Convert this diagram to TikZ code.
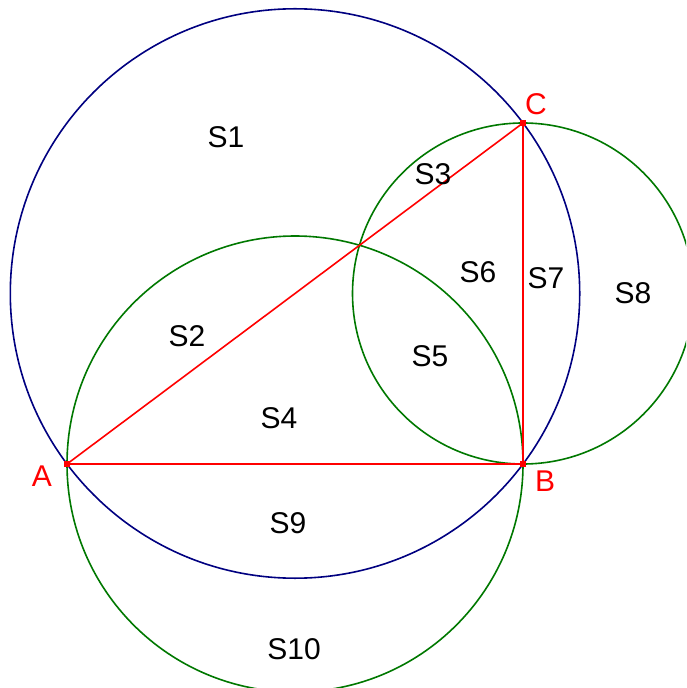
\documentclass[tikz,border=0pt]{standalone}
\usepackage{fontspec}
\setmainfont{Liberation Sans}
\usetikzlibrary{calc}
\definecolor{gbigline}{HTML}{000080}
\definecolor{gsmallline}{HTML}{007800}
\definecolor{gtriline}{HTML}{FF0000}
\tikzset{gregion/.style={font=\fontsize{15}{18}\selectfont, inner sep=0pt}}
\tikzset{gptlabel/.style={gregion, text=gtriline}}
\tikzset{gpoint/.style={rectangle, fill=gtriline, minimum size=2.8pt, inner sep=0pt}}
\tikzset{gtri/.style={draw=gtriline, line width=0.8pt}}
\tikzset{gbig/.style={draw=gbigline, line width=0.8pt}}
\tikzset{gsmall/.style={draw=gsmallline, line width=0.8pt}}

\begin{document}
\begin{tikzpicture}[x=0.5pt, y=-0.5pt]
  \useasboundingbox (0,0) rectangle (686,688);
  \clip (0,0) rectangle (686,688);

  \coordinate (A) at (67,464);
  \coordinate (B) at (523,464);
  \coordinate (C) at (523,123);

  % circles
  \draw[gbig] ($(A)!0.5!(C)$) circle[radius=284.7];
  \draw[gsmall] ($(A)!0.5!(B)$) circle[radius=228];
  \draw[gsmall] ($(B)!0.5!(C)$) circle[radius=170.5];

  % triangle
  \draw[gtri] (A) -- (B) -- (C) -- cycle;

  \node[gpoint] (Amark) at (A) {};
  \node[gpoint] (Bmark) at (B) {};
  \node[gpoint] (Cmark) at (C) {};

  \node[gptlabel] (Alabel) at (42,476) {A};
  \node[gptlabel] (Blabel) at (545,481) {B};
  \node[gptlabel] (Clabel) at (536,104) {C};

  % regions
  \node[gregion] (s1) at (226,137) {S1};
  \node[gregion] (s2) at (187,336) {S2};
  \node[gregion] (s3) at (433,174) {S3};
  \node[gregion] (s4) at (279,418) {S4};
  \node[gregion] (s5) at (430,356) {S5};
  \node[gregion] (s6) at (478,272) {S6};
  \node[gregion] (s7) at (546,278) {S7};
  \node[gregion] (s8) at (633,293) {S8};
  \node[gregion] (s9) at (288,523) {S9};
  \node[gregion] (s10) at (294,649) {S10};
\end{tikzpicture}
\end{document}
